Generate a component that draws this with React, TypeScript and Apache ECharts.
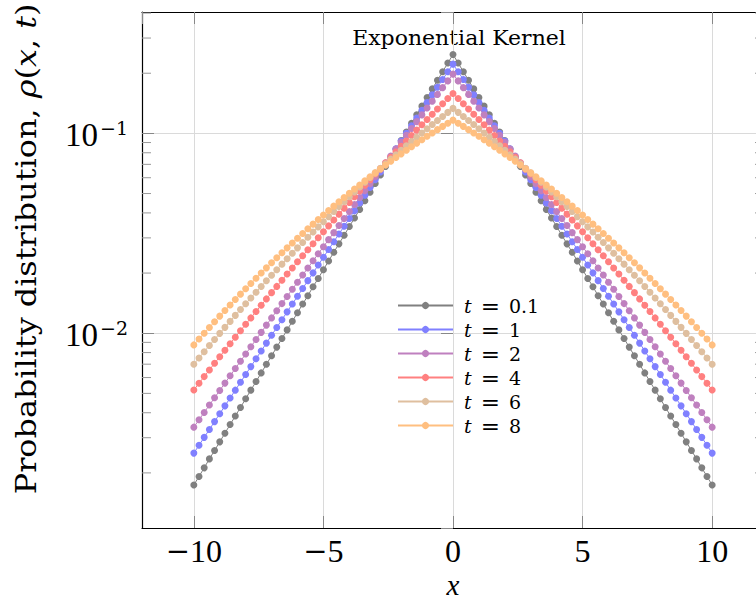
import React, { useEffect, useRef } from "react";
import * as echarts from "echarts";

const SERIF = "'DejaVu Serif', serif";
const TIMES = "'Liberation Serif', serif";

// x sample points
const xs = [
  -10, -9.8, -9.6, -9.4, -9.2, -9, -8.8, -8.6, -8.4, -8.2,
  -8, -7.8, -7.6, -7.4, -7.2, -7, -6.8, -6.6, -6.4, -6.2,
  -6, -5.8, -5.6, -5.4, -5.2, -5, -4.8, -4.6, -4.4, -4.2,
  -4, -3.8, -3.6, -3.4, -3.2, -3, -2.8, -2.6, -2.4, -2.2,
  -2, -1.8, -1.6, -1.4, -1.2, -1, -0.8, -0.6, -0.4, -0.2,
  0,
  0.2, 0.4, 0.6, 0.8, 1, 1.2, 1.4, 1.6, 1.8, 2,
  2.2, 2.4, 2.6, 2.8, 3, 3.2, 3.4, 3.6, 3.8, 4,
  4.2, 4.4, 4.6, 4.8, 5, 5.2, 5.4, 5.6, 5.8, 6,
  6.2, 6.4, 6.6, 6.8, 7, 7.2, 7.4, 7.6, 7.8, 8,
  8.2, 8.4, 8.6, 8.8, 9, 9.2, 9.4, 9.6, 9.8, 10,
];

const rhoT01 = [
  0.00174, 0.00192, 0.00212, 0.00235, 0.00259, 0.00286, 0.00316, 0.00349, 0.00385, 0.00425,
  0.0047, 0.00519, 0.00573, 0.00633, 0.00699, 0.00771, 0.00852, 0.00941, 0.01039, 0.01147,
  0.01267, 0.014, 0.0154, 0.0171, 0.0188, 0.0208, 0.023, 0.0254, 0.028, 0.0309,
  0.0342, 0.0377, 0.0416, 0.046, 0.0508, 0.0561, 0.0619, 0.0684, 0.0755, 0.0834,
  0.0921, 0.1017, 0.1123, 0.124, 0.1369, 0.1512, 0.167, 0.1844, 0.2036, 0.2249,
  0.2483,
  0.2249, 0.2036, 0.1844, 0.167, 0.1512, 0.1369, 0.124, 0.1123, 0.1017, 0.0921,
  0.0834, 0.0755, 0.0684, 0.0619, 0.0561, 0.0508, 0.046, 0.0416, 0.0377, 0.0342,
  0.0309, 0.028, 0.0254, 0.023, 0.0208, 0.0188, 0.0171, 0.0154, 0.014, 0.01267,
  0.01147, 0.01039, 0.00941, 0.00852, 0.00771, 0.00699, 0.00633, 0.00573, 0.00519, 0.0047,
  0.00425, 0.00385, 0.00349, 0.00316, 0.00286, 0.00259, 0.00235, 0.00212, 0.00192, 0.00174,
];

const rhoT1 = [
  0.002512, 0.002751, 0.003012, 0.003298, 0.003612, 0.003954, 0.00433, 0.00474, 0.005189, 0.00568,
  0.006218, 0.006806, 0.007449, 0.008152, 0.008922, 0.009764, 0.01068, 0.01169, 0.01279, 0.014,
  0.01531, 0.01675, 0.01833, 0.02005, 0.02193, 0.02399, 0.02624, 0.0287, 0.03138, 0.03432,
  0.03753, 0.04104, 0.04487, 0.04906, 0.05364, 0.05864, 0.06411, 0.07008, 0.07661, 0.08373,
  0.09152, 0.1, 0.1093, 0.1195, 0.1305, 0.1427, 0.1559, 0.1703, 0.1861, 0.2033,
  0.2221,
  0.2033, 0.1861, 0.1703, 0.1559, 0.1427, 0.1305, 0.1195, 0.1093, 0.1, 0.09152,
  0.08373, 0.07661, 0.07008, 0.06411, 0.05864, 0.05364, 0.04906, 0.04487, 0.04104, 0.03753,
  0.03432, 0.03138, 0.0287, 0.02624, 0.02399, 0.02193, 0.02005, 0.01833, 0.01675, 0.01531,
  0.014, 0.01279, 0.01169, 0.01068, 0.009764, 0.008922, 0.008152, 0.007449, 0.006806, 0.006218,
  0.00568, 0.005189, 0.00474, 0.00433, 0.003954, 0.003612, 0.003298, 0.003012, 0.002751, 0.002512,
];

const rhoT2 = [
  0.003388, 0.003689, 0.004015, 0.00437, 0.004755, 0.005173, 0.005628, 0.006121, 0.006657, 0.007238,
  0.007869, 0.008554, 0.009298, 0.0101, 0.01098, 0.01193, 0.01296, 0.01407, 0.01528, 0.01659,
  0.01801, 0.01955, 0.02122, 0.02303, 0.02498, 0.0271, 0.0294, 0.03188, 0.03457, 0.03748,
  0.04063, 0.04404, 0.04773, 0.05172, 0.05603, 0.06069, 0.06574, 0.07119, 0.07708, 0.08345,
  0.09033, 0.09777, 0.1058, 0.1145, 0.1238, 0.134, 0.1449, 0.1567, 0.1694, 0.1831,
  0.1979,
  0.1831, 0.1694, 0.1567, 0.1449, 0.134, 0.1238, 0.1145, 0.1058, 0.09777, 0.09033,
  0.08345, 0.07708, 0.07119, 0.06574, 0.06069, 0.05603, 0.05172, 0.04773, 0.04404, 0.04063,
  0.03748, 0.03457, 0.03188, 0.0294, 0.0271, 0.02498, 0.02303, 0.02122, 0.01955, 0.01801,
  0.01659, 0.01528, 0.01407, 0.01296, 0.01193, 0.01098, 0.0101, 0.009298, 0.008554, 0.007869,
  0.007238, 0.006657, 0.006121, 0.005628, 0.005173, 0.004755, 0.00437, 0.004015, 0.003689, 0.003388,
];

const rhoT4 = [
  0.0052, 0.005618, 0.006067, 0.00655, 0.007069, 0.007626, 0.008224, 0.008866, 0.009554, 0.01029,
  0.01108, 0.01193, 0.01284, 0.01381, 0.01485, 0.01596, 0.01715, 0.01842, 0.01977, 0.02122,
  0.02277, 0.02442, 0.02618, 0.02806, 0.03006, 0.03219, 0.03446, 0.03688, 0.03945, 0.04219,
  0.0451, 0.04819, 0.05148, 0.05497, 0.05867, 0.0626, 0.06677, 0.07119, 0.07588, 0.08085,
  0.08611, 0.09168, 0.09757, 0.1038, 0.1104, 0.1174, 0.1247, 0.1325, 0.1407, 0.1494,
  0.1585,
  0.1494, 0.1407, 0.1325, 0.1247, 0.1174, 0.1104, 0.1038, 0.09757, 0.09168, 0.08611,
  0.08085, 0.07588, 0.07119, 0.06677, 0.0626, 0.05867, 0.05497, 0.05148, 0.04819, 0.0451,
  0.04219, 0.03945, 0.03688, 0.03446, 0.03219, 0.03006, 0.02806, 0.02618, 0.02442, 0.02277,
  0.02122, 0.01977, 0.01842, 0.01715, 0.01596, 0.01485, 0.01381, 0.01284, 0.01193, 0.01108,
  0.01029, 0.009554, 0.008866, 0.008224, 0.007626, 0.007069, 0.00655, 0.006067, 0.005618, 0.0052,
];

const rhoT6 = [
  0.006998, 0.007522, 0.00808, 0.008675, 0.009309, 0.009983, 0.0107, 0.01146, 0.01228, 0.01314,
  0.01405, 0.01502, 0.01605, 0.01714, 0.01829, 0.01951, 0.0208, 0.02217, 0.02361, 0.02513,
  0.02674, 0.02843, 0.03021, 0.03209, 0.03406, 0.03614, 0.03833, 0.04062, 0.04303, 0.04555,
  0.0482, 0.05098, 0.05389, 0.05693, 0.06011, 0.06343, 0.06691, 0.07053, 0.07431, 0.07825,
  0.08236, 0.08664, 0.09108, 0.09571, 0.1005, 0.1055, 0.1107, 0.1161, 0.1216, 0.1274,
  0.1334,
  0.1274, 0.1216, 0.1161, 0.1107, 0.1055, 0.1005, 0.09571, 0.09108, 0.08664, 0.08236,
  0.07825, 0.07431, 0.07053, 0.06691, 0.06343, 0.06011, 0.05693, 0.05389, 0.05098, 0.0482,
  0.04555, 0.04303, 0.04062, 0.03833, 0.03614, 0.03406, 0.03209, 0.03021, 0.02843, 0.02674,
  0.02513, 0.02361, 0.02217, 0.0208, 0.01951, 0.01829, 0.01714, 0.01605, 0.01502, 0.01405,
  0.01314, 0.01228, 0.01146, 0.0107, 0.009983, 0.009309, 0.008675, 0.00808, 0.007522, 0.006998,
];

const rhoT8 = [
  0.00874, 0.009351, 0.009999, 0.01068, 0.01141, 0.01218, 0.01299, 0.01384, 0.01474, 0.01569,
  0.01669, 0.01774, 0.01885, 0.02001, 0.02124, 0.02252, 0.02386, 0.02527, 0.02674, 0.02828,
  0.02989, 0.03157, 0.03332, 0.03515, 0.03706, 0.03904, 0.0411, 0.04325, 0.04547, 0.04778,
  0.05018, 0.05266, 0.05523, 0.05788, 0.06063, 0.06346, 0.06638, 0.0694, 0.0725, 0.07569,
  0.07898, 0.08235, 0.08581, 0.08936, 0.093, 0.09672, 0.1005, 0.1044, 0.1084, 0.1124,
  0.1165,
  0.1124, 0.1084, 0.1044, 0.1005, 0.09672, 0.093, 0.08936, 0.08581, 0.08235, 0.07898,
  0.07569, 0.0725, 0.0694, 0.06638, 0.06346, 0.06063, 0.05788, 0.05523, 0.05266, 0.05018,
  0.04778, 0.04547, 0.04325, 0.0411, 0.03904, 0.03706, 0.03515, 0.03332, 0.03157, 0.02989,
  0.02828, 0.02674, 0.02527, 0.02386, 0.02252, 0.02124, 0.02001, 0.01885, 0.01774, 0.01669,
  0.01569, 0.01474, 0.01384, 0.01299, 0.01218, 0.01141, 0.01068, 0.009999, 0.009351, 0.00874,
];

const seriesNames = ["t = 0.1", "t = 1", "t = 2", "t = 4", "t = 6", "t = 8"];
const seriesValues = [rhoT01, rhoT1, rhoT2, rhoT4, rhoT6, rhoT8];
const seriesColors = ["#808080", "#8080ff", "#bf80bf", "#ff8080", "#dfbf9f", "#ffbf80"];

// minor ticks of the logarithmic y axis
const minorTickValues = [
  0.002, 0.003, 0.004, 0.005, 0.006, 0.007, 0.008, 0.009,
  0.02, 0.03, 0.04, 0.05, 0.06, 0.07, 0.08, 0.09,
  0.2, 0.3, 0.4,
];

const X_MIN = -12;
const X_MAX = 12;
const Y_MIN = 0.00106;
const Y_MAX = 0.405;

const TITLE = "Exponential Kernel";

function fmtX(v: number) {
  if (v < 0) return `{m|\u2212}{d|${Math.abs(v)}}`;
  return `{d|${v}}`;
}

function fmtY(v: number) {
  const l = Math.log10(v);
  const e = Math.round(l);
  if (Math.abs(l - e) > 1e-6) return "";
  return `{b|10}{s|${e < 0 ? "\u2212" + -e : e}}`;
}

export default function App() {
  const ref = useRef<HTMLDivElement>(null);
  useEffect(() => {
    const chart = echarts.init(ref.current!, null, { renderer: "svg" });
    const tickStyle = { color: "#888", width: 1 };
    const lineSeries = seriesNames.map((name, k) => ({
      type: "line",
      name,
      xAxisIndex: 0,
      yAxisIndex: 0,
      data: xs.map((x, i) => [x, seriesValues[k][i]]),
      symbol: "circle",
      symbolSize: 7,
      color: seriesColors[k],
      itemStyle: { color: seriesColors[k] },
      lineStyle: { color: seriesColors[k], width: 1 },
      emphasis: { disabled: true },
      silent: true,
      z: 3 + k,
    }));
    const legendRich = {
      i: { fontFamily: SERIF, fontSize: 19, fontStyle: "italic", color: "#000", lineHeight: 14, padding: [0, 0, 0, 6] },
      e: { fontFamily: SERIF, fontSize: 23, color: "#000", lineHeight: 14, padding: [0, 3, 0, 3] },
    };
    const option: any = {
      animation: false,
      backgroundColor: "#fff",
      grid: {
        left: 142,
        top: 12,
        width: 622,
        height: 516,
        containLabel: false,
        outerBoundsMode: "none",
      },
      xAxis: [
        {
          type: "value",
          position: "bottom",
          min: X_MIN,
          max: X_MAX,
          axisLine: { show: true, onZero: false, lineStyle: { color: "#000", width: 1.2 } },
          axisTick: { show: true, inside: true, length: 12, lineStyle: tickStyle },
          axisLabel: {
            show: true,
            margin: 10,
            showMinLabel: false,
            showMaxLabel: false,
            formatter: fmtX,
            rich: {
              m: { fontFamily: SERIF, fontSize: 29, color: "#000", lineHeight: 26 },
              d: { fontFamily: TIMES, fontSize: 32, color: "#000", lineHeight: 26 },
            },
          },
          splitLine: { show: true, lineStyle: { color: "#dadada", width: 1 } },
        },
        {
          type: "value",
          position: "top",
          min: X_MIN,
          max: X_MAX,
          axisLine: { show: true, onZero: false, lineStyle: { color: "#000", width: 1.2 } },
          axisTick: { show: true, inside: true, length: 12, lineStyle: tickStyle },
          axisLabel: { show: false },
          splitLine: { show: false },
        },
      ],
      yAxis: [
        {
          type: "log",
          logBase: 10,
          position: "left",
          min: Y_MIN,
          max: Y_MAX,
          axisLine: { show: true, onZero: false, lineStyle: { color: "#000", width: 1.2 } },
          axisTick: { show: true, inside: true, length: 12, lineStyle: tickStyle },
          axisLabel: {
            show: true,
            margin: 14,
            showMinLabel: false,
            showMaxLabel: false,
            formatter: fmtY,
            rich: {
              b: { fontFamily: TIMES, fontSize: 33, color: "#000", padding: [4, 0, 0, 0] },
              s: { fontFamily: SERIF, fontSize: 19, color: "#000", padding: [0, 0, 10, 2] },
            },
          },
          splitLine: { show: true, lineStyle: { color: "#dadada", width: 1 } },
        },
        {
          type: "log",
          logBase: 10,
          position: "right",
          min: Y_MIN,
          max: Y_MAX,
          axisLine: { show: false },
          axisTick: { show: true, inside: true, length: 12, lineStyle: tickStyle },
          axisLabel: { show: false },
          splitLine: { show: false },
        },
      ],
      legend: {
        data: seriesNames,
        orient: "vertical",
        left: 397,
        top: 294,
        padding: 0,
        itemWidth: 55,
        itemHeight: 9,
        itemGap: 1,
        selectedMode: false,
        formatter: (n: string) => n.replace(/^t = /, "{i|t} {e|=} "),
        textStyle: {
          fontFamily: SERIF,
          fontSize: 19,
          color: "#000",
          lineHeight: 14,
          rich: legendRich,
        },
      },
      graphic: [
        {
          type: "text",
          x: 459,
          y: 38,
          scaleX: 1.1,
          silent: true,
          style: {
            text: TITLE,
            fontFamily: SERIF,
            fontSize: 20,
            fill: "#000",
            textAlign: "center",
            textVerticalAlign: "middle",
          },
        },
        {
          type: "text",
          x: 453,
          y: 599,
          silent: true,
          style: {
            text: "x",
            fontFamily: TIMES,
            fontStyle: "italic",
            fontSize: 29,
            fill: "#000",
            textAlign: "center",
            textVerticalAlign: "bottom",
          },
        },
        {
          type: "text",
          x: 27,
          y: 249,
          rotation: Math.PI / 2,
          scaleX: 1.18,
          silent: true,
          style: {
            text: "Probability distribution, {i|\u03c1}({i|x}, {i|t})",
            fontFamily: SERIF,
            fontSize: 27,
            fill: "#000",
            textAlign: "center",
            textVerticalAlign: "middle",
            rich: {
              i: { fontFamily: SERIF, fontSize: 27, fontStyle: "italic", fill: "#000" },
            },
          },
        },
      ],
      series: [
        {
          type: "custom",
          name: "minorTicks",
          xAxisIndex: 0,
          yAxisIndex: 0,
          silent: true,
          z: 2,
          data: minorTickValues.map((v) => [0, v]),
          encode: { x: 0, y: 1 },
          renderItem: (_p: any, api: any) => {
            const v = api.value(1);
            const pl = api.coord([X_MIN, v]);
            const pr = api.coord([X_MAX, v]);
            return {
              type: "group",
              children: [
                {
                  type: "line",
                  shape: { x1: pl[0], y1: pl[1], x2: pl[0] + 9, y2: pl[1] },
                  style: { stroke: "#999", lineWidth: 1 },
                },
                {
                  type: "line",
                  shape: { x1: pr[0] - 9, y1: pr[1], x2: pr[0], y2: pr[1] },
                  style: { stroke: "#999", lineWidth: 1 },
                },
              ],
            };
          },
        },
        ...lineSeries,
      ],
    };
    chart.setOption(option);
    return () => chart.dispose();
  }, []);
  return (
    <div
      ref={ref}
      style={{ position: "absolute", left: 0, top: 0, width: 756, height: 599 }}
    />
  );
}
